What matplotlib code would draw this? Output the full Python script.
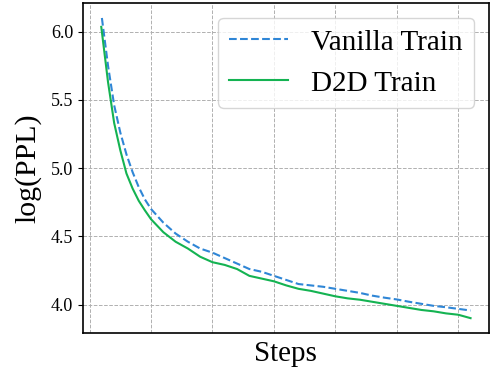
import matplotlib
matplotlib.use('Agg')
import matplotlib.pyplot as plt

plt.rcParams['font.family'] = ['Liberation Serif', 'DejaVu Serif']

# training steps (x1000, axis labels are hidden in the original)
vanilla_steps = [0.2, 0.3, 0.4, 0.5, 0.6, 0.7, 0.8, 0.9, 1.0, 1.2, 1.4, 1.6, 1.8,
                 2.0, 2.2, 2.4, 2.6, 2.8, 3.0, 3.2, 3.4, 3.6, 3.8, 4.0, 4.2, 4.4,
                 4.6, 4.8, 5.0, 5.2, 5.4, 5.6, 5.8, 6.0, 6.2]
vanilla_ppl = [6.10, 5.75, 5.46, 5.26, 5.10, 4.97, 4.86, 4.77, 4.70, 4.60, 4.52,
               4.46, 4.41, 4.38, 4.34, 4.30, 4.26, 4.24, 4.21, 4.18, 4.15, 4.14,
               4.13, 4.115, 4.10, 4.085, 4.065, 4.05, 4.037, 4.02, 4.005, 3.99,
               3.98, 3.968, 3.956]

d2d_steps = [0.19, 0.3, 0.4, 0.5, 0.6, 0.7, 0.8, 0.9, 1.0, 1.2, 1.4, 1.6, 1.8,
             2.0, 2.2, 2.4, 2.6, 2.8, 3.0, 3.2, 3.4, 3.6, 3.8, 4.0, 4.2, 4.4,
             4.6, 4.8, 5.0, 5.2, 5.4, 5.6, 5.8, 6.0, 6.2]
d2d_ppl = [6.035, 5.63, 5.33, 5.13, 4.96, 4.85, 4.76, 4.69, 4.625, 4.53, 4.46,
           4.41, 4.35, 4.31, 4.29, 4.26, 4.21, 4.19, 4.17, 4.14, 4.115, 4.10,
           4.08, 4.06, 4.045, 4.035, 4.02, 4.005, 3.99, 3.975, 3.96, 3.95,
           3.935, 3.925, 3.90]

fig = plt.figure(figsize=(4.9, 3.71), dpi=100)
ax = fig.add_axes([0.169, 0.102, 0.829, 0.890])

ax.plot(vanilla_steps, vanilla_ppl, '--', color='#2f86d6', lw=1.5, label='Vanilla Train')
ax.plot(d2d_steps, d2d_ppl, '-', color='#14b352', lw=1.5, label='D2D Train')

ax.set_xticks(range(0, 7))
ax.set_yticks([4.0, 4.5, 5.0, 5.5, 6.0])
ax.tick_params(axis='x', length=0, labelbottom=False)
ax.tick_params(axis='y', labelsize=13)
ax.grid(True, ls='--', color='#b0b0b0', lw=0.7)

for s in ax.spines.values():
    s.set_linewidth(1.2)

ax.set_xlabel('Steps', fontsize=21, labelpad=6)
ax.set_ylabel('log(PPL)', fontsize=21.5, labelpad=7)
ax.legend(loc='upper right', fontsize=21)

plt.savefig('out.png', dpi=100)
